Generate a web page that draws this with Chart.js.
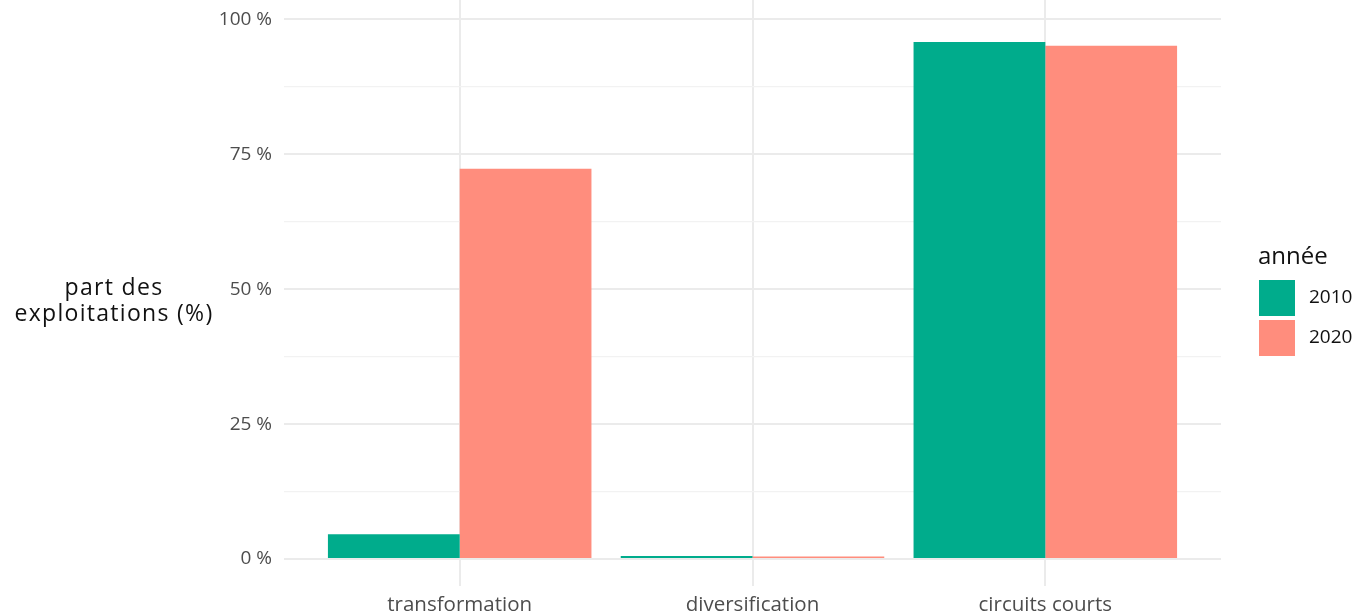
<!DOCTYPE html>
<html>
<head>
<meta charset="utf-8">
<script src="https://cdn.jsdelivr.net/npm/chart.js@4.4.1/dist/chart.umd.min.js"></script>
<style>
  html, body { margin: 0; padding: 0; background: #fff; }
  #wrap { position: relative; width: 1358px; height: 613px; overflow: hidden; }
  #chart { position: absolute; left: 0; top: -31px; }
</style>
</head>
<body>
<div id="wrap">
  <canvas id="chart" width="1358" height="665"></canvas>
</div>
<script>
const categories = ['transformation', 'diversification', 'circuits courts'];
const years = ['2010', '2020'];
const values2010 = [4.6, 0.55, 95.8];
const values2020 = [72.3, 0.45, 95.1];
const yTicks = [0, 12.5, 25, 37.5, 50, 62.5, 75, 87.5, 100];

const colors = ['#00ac8c', '#ff8d7d'];
const FONT = '"Open Sans", sans-serif';

function toPoints(values) {
  return values.map((v, i) => ({ x: i + 1, y: v }));
}

// y-axis title, horizontal, left of the tick labels
const yTitlePlugin = {
  id: 'yTitle',
  afterDraw(chart) {
    const ctx = chart.ctx;
    const mid = (chart.scales.y.getPixelForValue(0) + chart.scales.y.getPixelForValue(100)) / 2;
    ctx.save();
    ctx.fillStyle = '#111';
    ctx.font = '23px ' + FONT;
    ctx.letterSpacing = '1.3px';
    ctx.textAlign = 'center';
    ctx.textBaseline = 'middle';
    ctx.fillText('part des', 114, mid - 1);
    ctx.fillText('exploitations (%)', 114, mid + 25);
    ctx.restore();
  }
};

// ggplot-like legend on the right
const legendPlugin = {
  id: 'sideLegend',
  afterDraw(chart) {
    const ctx = chart.ctx;
    const left = 1258;
    const top = 288;
    ctx.save();
    ctx.fillStyle = '#111';
    ctx.font = '24px ' + FONT;
    ctx.textAlign = 'left';
    ctx.textBaseline = 'middle';
    ctx.fillText('année', left, top);
    chart.data.datasets.forEach((ds, i) => {
      const y = top + 23 + i * 40;
      ctx.fillStyle = ds.backgroundColor;
      ctx.fillRect(left + 1, y, 36, 36);
      ctx.fillStyle = '#111';
      ctx.font = '19px ' + FONT;
      ctx.fillText(ds.label, left + 51, y + 18);
    });
    ctx.restore();
  }
};

new Chart(document.getElementById('chart'), {
  type: 'bar',
  data: {
    datasets: [
      { label: years[0], data: toPoints(values2010), backgroundColor: colors[0] },
      { label: years[1], data: toPoints(values2020), backgroundColor: colors[1] }
    ]
  },
  options: {
    responsive: false,
    animation: false,
    layout: { padding: { top: 0, right: 137, left: 0, bottom: 0 } },
    datasets: {
      bar: { categoryPercentage: 0.9, barPercentage: 1.0, borderWidth: 0 }
    },
    plugins: {
      legend: { display: false },
      tooltip: { enabled: false }
    },
    scales: {
      x: {
        type: 'linear',
        offset: false,
        min: 0.4,
        max: 3.6,
        afterBuildTicks: scale => { scale.ticks = categories.map((c, i) => ({ value: i + 1 })); },
        afterFit: scale => { scale.height = 48; },
        border: { display: false },
        grid: { offset: false, color: '#ebebeb', lineWidth: 2, drawTicks: false },
        ticks: {
          padding: 7,
          color: '#4d4d4d',
          font: { family: FONT, size: 20.5 },
          callback: v => categories[v - 1]
        }
      },
      y: {
        min: -5,
        max: 105,
        afterBuildTicks: scale => { scale.ticks = yTicks.map(v => ({ value: v })); },
        afterFit: scale => { scale.width = 284; },
        border: { display: false },
        grid: {
          drawTicks: false,
          color: ctx => (ctx.tick && ctx.tick.value % 25 === 0) ? '#ebebeb' : '#f2f2f2',
          lineWidth: ctx => (ctx.tick && ctx.tick.value % 25 === 0) ? 2 : 1.2
        },
        ticks: {
          padding: 12,
          color: '#4d4d4d',
          font: { family: FONT, size: 19 },
          callback: v => (v % 25 === 0 ? v + ' %' : '')
        }
      }
    }
  },
  plugins: [yTitlePlugin, legendPlugin]
});
</script>
</body>
</html>
